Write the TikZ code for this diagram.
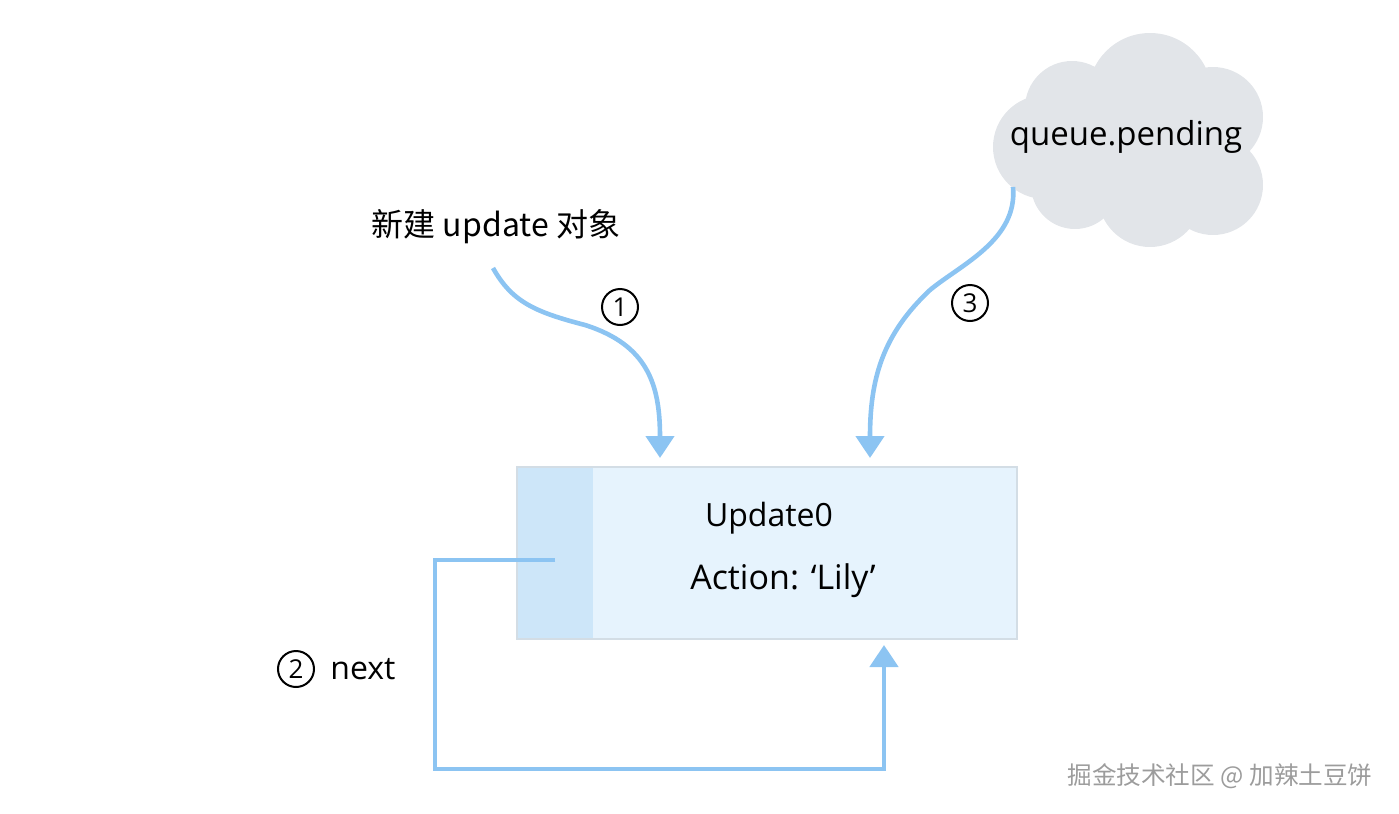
\documentclass[tikz,border=0pt]{standalone}
\usepackage{fontspec}
\setmainfont{Open Sans}
\newfontfamily\cjk{Noto Sans CJK SC}
\usetikzlibrary{arrows.meta}
\definecolor{arrowblue}{HTML}{8CC4F2}
\definecolor{boxfill}{HTML}{E6F3FD}
\definecolor{bandfill}{HTML}{CDE6F9}
\definecolor{boxborder}{HTML}{D3DDE5}
\definecolor{cloudfill}{HTML}{E2E5E9}
\definecolor{wmgray}{HTML}{9C9C9C}
\tikzset{
  conn/.style={draw=arrowblue, line width=2.3pt, -{Triangle[width=14pt,length=11pt]}},
  txt/.style={font=\fontsize{16}{19}\selectfont, text=black, inner sep=0pt},
  numcirc/.style={circle, draw=black, line width=1pt, minimum size=18pt, inner sep=0pt, font=\fontsize{13}{15}\selectfont}
}
\begin{document}
\begin{tikzpicture}[x=0.5pt,y=-0.5pt]
\useasboundingbox (0,0) rectangle (1399,814);
% cloud
\fill[cloudfill]
  (1150,95) circle (62)
  (1072,108) circle (47)
  (1045,147) circle (52)
  (1213,117) circle (50)
  (1213,185) circle (50)
  (1150,195) circle (52)
  (1075,185) circle (44)
  (1140,145) circle (72);
\node[txt, font=\fontsize{16.5}{19}\selectfont] (cloud) at (1126,137) {queue.pending};
% box
\node[fill=boxfill, minimum width=249.5pt, minimum height=85.5pt, anchor=north west, inner sep=0pt] (box) at (517,467) {};
\node[fill=bandfill, minimum width=38pt, minimum height=85.5pt, anchor=north west, inner sep=0pt] (band) at (517,467) {};
\draw[boxborder, line width=0.7pt] (box.north west) rectangle (box.south east);
\node[txt, font=\fontsize{16}{19}\selectfont] (upd) at (769,518) {Update0};
\node[txt, font=\fontsize{17}{20}\selectfont] (act) at (783,581) {Action: ‘Lily’};
% label 1
\node[txt, font=\cjk\fontsize{16}{19}\selectfont] (newlbl) at (496,227) {新建 update 对象};
% coordinates
\coordinate (s1) at (493,268);
\coordinate (m1) at (585,325);
\coordinate (e1) at (660,458);
\coordinate (s3) at (1013,187);
\coordinate (m3) at (930,290);
\coordinate (e3) at (870,458);
\coordinate (s2) at (555,560);
\coordinate (c2) at (435,769);
\coordinate (e2) at (884,645);
% arrows
\draw[conn] (s1) .. controls (512,302) and (535,312) .. (m1) .. controls (648,345) and (660,385) .. (e1);
\draw[conn] (s3) .. controls (1018,240) and (960,265) .. (m3) .. controls (882,335) and (870,380) .. (e3);
\draw[conn] (s2) -| (c2) -| (e2);
% numbers
\node[numcirc] (n1) at (620,307) {1};
\node[numcirc] (n3) at (970,303) {3};
\node[numcirc] (n2) at (296,669) {2};
\node[txt] (next) at (363,669) {next};
% watermark
\node[txt, font=\cjk\fontsize{12.3}{14}\selectfont, text=wmgray] (wm) at (1220,776) {掘金技术社区 @ 加辣土豆饼};
\end{tikzpicture}
\end{document}
